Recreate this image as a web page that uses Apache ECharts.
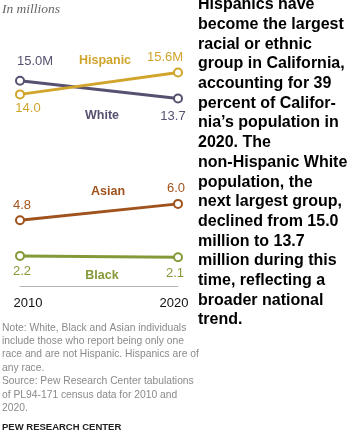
<!DOCTYPE html>
<html>
<head>
<meta charset="utf-8">
<script src="https://cdn.jsdelivr.net/npm/echarts@6/dist/echarts.min.js"></script>
<style>
  html, body { margin: 0; padding: 0; background: #fff; }
  #chart { width: 350px; height: 439px; }
</style>
</head>
<body>
<div id="chart"></div>
<script>
// data (millions)
var years = ['2010', '2020'];
var hispanic = [14.0, 15.6];
var white = [15.0, 13.7];
var asian = [4.8, 6.0];
var black = [2.2, 2.1];
var hispanicLabels = ['14.0', '15.6M'];
var whiteLabels = ['15.0M', '13.7'];
var asianLabels = ['4.8', '6.0'];
var blackLabels = ['2.2', '2.1'];

var colors = {
    hispanic: '#d1a52c',
    white: '#585070',
    asian: '#a0521c',
    black: '#849a38'
};

var blurb = [
    'Hispanics have',
    'become the largest',
    'racial or ethnic',
    'group in California,',
    'accounting for 39',
    'percent of Califor-',
    'nia\u2019s population in',
    '2020. The',
    'non-Hispanic White',
    'population, the',
    'next largest group,',
    'declined from 15.0',
    'million to 13.7',
    'million during this',
    'time, reflecting a',
    'broader national',
    'trend.'
];

var note = [
    'Note: White, Black and Asian individuals',
    'include those who report being only one',
    'race and are not Hispanic. Hispanics are of',
    'any race.',
    'Source: Pew Research Center tabulations',
    'of PL94-171 census data for 2010 and',
    '2020.'
];

var font = 'Liberation Sans, Arial, sans-serif';

function makeSeries(name, values, labels, color, offsets) {
    return {
        name: name,
        type: 'line',
        data: values.map(function(v, i) {
            return {
                value: v,
                label: {
                    show: true,
                    position: 'inside',
                    offset: offsets[i],
                    formatter: labels[i],
                    color: color,
                    fontSize: 13,
                    fontFamily: font
                }
            };
        }),
        symbol: 'circle',
        symbolSize: 8,
        itemStyle: { color: '#fff', borderColor: color, borderWidth: 2 },
        lineStyle: { color: color, width: 3 },
        z: 3,
        silent: true
    };
}

var chart = echarts.init(document.getElementById('chart'));

var option = {
    animation: false,
    grid: { left: 20, top: 67, width: 158, height: 219 },
    xAxis: {
        type: 'category',
        boundaryGap: false,
        data: [
            { value: years[0], textStyle: { padding: [0, 0, 0, 16] } },
            { value: years[1], textStyle: { padding: [0, 8, 0, 0] } }
        ],
        axisLine: { lineStyle: { color: '#b5b5b5', width: 1 } },
        axisTick: { show: false },
        axisLabel: { color: '#111', fontSize: 13, fontFamily: font, margin: 11 }
    },
    yAxis: {
        type: 'value',
        min: 0,
        max: 16,
        show: false
    },
    series: [
        makeSeries('White', white, whiteLabels, colors.white, [[15, -19], [-5, 18]]),
        makeSeries('Hispanic', hispanic, hispanicLabels, colors.hispanic, [[8, 14], [-13, -15]]),
        makeSeries('Asian', asian, asianLabels, colors.asian, [[2, -15], [-2, -15]]),
        makeSeries('Black', black, blackLabels, colors.black, [[2, 16], [-3, 16]])
    ],
    graphic: [
        {
            type: 'text', left: 2, top: 2,
            style: { text: 'In millions', font: 'italic 13.5px "Liberation Serif", Georgia, serif', fill: '#666' }
        },
        // series names
        { type: 'text', x: 105, y: 61, style: { text: 'Hispanic', font: 'bold 12.5px ' + font, fill: colors.hispanic, align: 'center', verticalAlign: 'middle' } },
        { type: 'text', x: 102, y: 116, style: { text: 'White', font: 'bold 12.5px ' + font, fill: colors.white, align: 'center', verticalAlign: 'middle' } },
        { type: 'text', x: 108, y: 192, style: { text: 'Asian', font: 'bold 12.5px ' + font, fill: colors.asian, align: 'center', verticalAlign: 'middle' } },
        { type: 'text', x: 102, y: 276, style: { text: 'Black', font: 'bold 12.5px ' + font, fill: colors.black, align: 'center', verticalAlign: 'middle' } },
        // right-hand text
        {
            type: 'text', x: 198, y: -5,
            style: { text: blurb.join('\n'), font: 'bold 16px ' + font, fill: '#000', lineHeight: 19.7 }
        },
        // note
        {
            type: 'text', x: 2, y: 321,
            style: { text: note.join('\n'), font: '10.3px ' + font, fill: '#8a8a8a', lineHeight: 13.4 }
        },
        {
            type: 'text', x: 2, y: 422,
            style: { text: 'PEW RESEARCH CENTER', font: 'bold 9.5px ' + font, fill: '#222' }
        }
    ]
};

chart.setOption(option);
</script>
</body>
</html>
